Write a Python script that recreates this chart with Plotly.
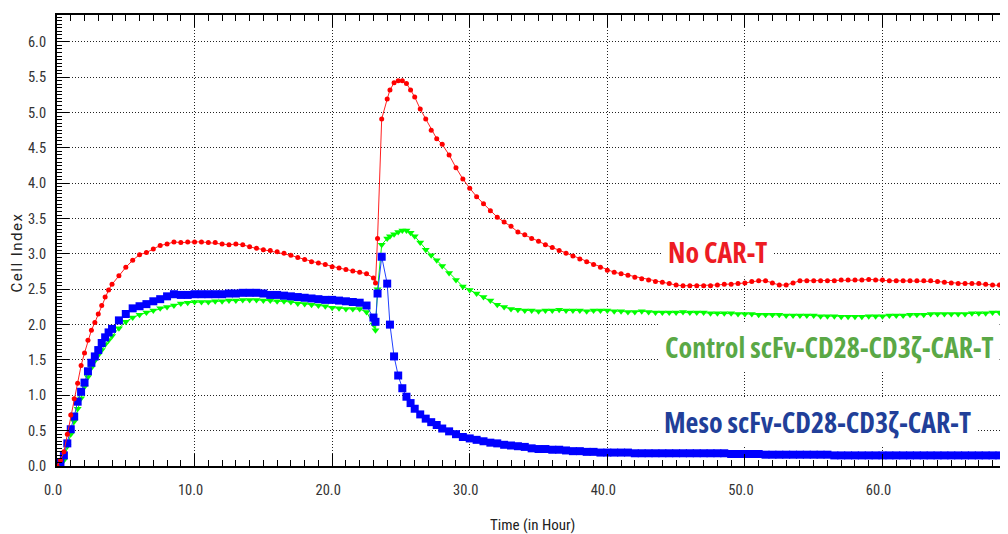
import plotly.graph_objects as go

hours = [0, 0.25, 0.5, 0.75, 1.0, 1.25, 1.5, 1.75, 2.0, 2.25, 2.5, 2.75, 3.0, 3.25, 3.5, 3.75,
         4.0, 4.5, 5.0, 5.5, 6.0, 6.5, 7.0, 7.5, 8.0, 8.5, 9.0, 9.5, 10.0, 10.5, 11.0, 11.5,
         12.0, 12.5, 13.0, 13.5, 14.0, 14.5, 15.0, 15.5, 16.0, 16.5, 17.0, 17.5, 18.0, 18.5,
         19.0, 19.5, 20.0, 20.5, 21.0, 21.5, 22.0, 22.5, 23.0, 23.15, 23.3, 23.6, 24.0, 24.2,
         24.5, 24.8, 25.1, 25.4, 25.7, 26.0, 26.4, 26.8, 27.2, 27.6, 28.0, 28.5, 29.0, 29.5,
         30.0, 30.5, 31.0, 31.5, 32.0, 32.5, 33.0, 33.5, 34.0, 34.5, 35.0, 35.5, 36.0, 36.5,
         37.0, 37.5, 38.0, 38.5, 39.0, 39.5, 40.0, 40.5, 41.0, 41.5, 42.0, 42.5, 43.0, 43.5,
         44.0, 44.5, 45.0, 45.5, 46.0, 46.5, 47.0, 47.5, 48.0, 48.5, 49.0, 49.5, 50.0, 50.5,
         51.0, 51.5, 52.0, 52.5, 53.0, 53.5, 54.0, 54.5, 55.0, 55.5, 56.0, 56.5, 57.0, 57.5,
         58.0, 58.5, 59.0, 59.5, 60.0, 60.5, 61.0, 61.5, 62.0, 62.5, 63.0, 63.5, 64.0, 64.5,
         65.0, 65.5, 66.0, 66.5, 67.0, 67.5, 68.0, 68.5, 69.0]

no_car_t = [0.0, 0.08, 0.2, 0.45, 0.72, 0.95, 1.17, 1.42, 1.6, 1.78, 1.92, 2.03, 2.15, 2.27, 2.39, 2.49,
            2.57, 2.69, 2.81, 2.91, 2.99, 3.02, 3.07, 3.12, 3.14, 3.17, 3.16, 3.17, 3.17, 3.17, 3.16, 3.16,
            3.14, 3.13, 3.14, 3.13, 3.10, 3.08, 3.06, 3.05, 3.03, 3.01, 2.98, 2.95, 2.92, 2.89,
            2.87, 2.85, 2.82, 2.80, 2.78, 2.76, 2.74, 2.72, 2.66, 2.59, 3.22, 4.91, 5.19, 5.32,
            5.42, 5.45, 5.45, 5.41, 5.32, 5.22, 5.05, 4.91, 4.75, 4.63, 4.55, 4.40, 4.22, 4.06,
            3.93, 3.81, 3.71, 3.61, 3.52, 3.45, 3.39, 3.31, 3.27, 3.22, 3.18, 3.13, 3.09, 3.05,
            3.01, 2.97, 2.93, 2.89, 2.85, 2.81, 2.77, 2.74, 2.72, 2.70, 2.67, 2.65, 2.63, 2.61,
            2.60, 2.58, 2.56, 2.55, 2.55, 2.55, 2.55, 2.55, 2.56, 2.57, 2.57, 2.58, 2.59, 2.61,
            2.62, 2.62, 2.59, 2.56, 2.56, 2.59, 2.62, 2.62, 2.62, 2.62, 2.62, 2.62, 2.63, 2.63,
            2.63, 2.63, 2.64, 2.63, 2.63, 2.62, 2.62, 2.62, 2.62, 2.62, 2.62, 2.62, 2.61, 2.60,
            2.59, 2.58, 2.58, 2.58, 2.58, 2.57, 2.56, 2.56, 2.55]

control_car_t = [0.0, 0.02, 0.08, 0.28, 0.45, 0.63, 0.81, 0.96, 1.12, 1.26, 1.39, 1.49, 1.57, 1.64, 1.72, 1.78,
                 1.84, 1.95, 2.04, 2.10, 2.14, 2.17, 2.20, 2.23, 2.25, 2.27, 2.30, 2.31, 2.32, 2.32, 2.32, 2.33,
                 2.33, 2.34, 2.34, 2.35, 2.35, 2.35, 2.34, 2.34, 2.33, 2.33, 2.32, 2.30, 2.29, 2.28,
                 2.27, 2.26, 2.24, 2.23, 2.22, 2.22, 2.22, 2.18, 2.00, 1.92, 2.50, 3.13, 3.22, 3.25,
                 3.28, 3.31, 3.33, 3.33, 3.30, 3.25, 3.16, 3.06, 2.98, 2.91, 2.83, 2.73, 2.63, 2.54,
                 2.49, 2.44, 2.39, 2.34, 2.28, 2.25, 2.22, 2.21, 2.20, 2.20, 2.19, 2.20, 2.20, 2.21,
                 2.20, 2.20, 2.20, 2.19, 2.20, 2.20, 2.20, 2.19, 2.19, 2.18, 2.18, 2.19, 2.18, 2.17,
                 2.17, 2.17, 2.17, 2.18, 2.17, 2.17, 2.17, 2.16, 2.16, 2.16, 2.16, 2.15, 2.15, 2.15,
                 2.14, 2.14, 2.14, 2.14, 2.13, 2.13, 2.13, 2.13, 2.13, 2.12, 2.12, 2.12, 2.11, 2.11,
                 2.11, 2.11, 2.12, 2.12, 2.12, 2.13, 2.13, 2.13, 2.14, 2.14, 2.14, 2.15, 2.15, 2.15,
                 2.15, 2.15, 2.15, 2.16, 2.16, 2.16, 2.17, 2.17, 2.18]

meso_car_t = [0.0, 0.05, 0.15, 0.32, 0.52, 0.70, 0.91, 1.05, 1.18, 1.34, 1.46, 1.55, 1.64, 1.74, 1.82, 1.89,
              1.94, 2.06, 2.15, 2.23, 2.26, 2.29, 2.33, 2.36, 2.40, 2.43, 2.42, 2.42, 2.43, 2.43, 2.43, 2.43,
              2.43, 2.44, 2.44, 2.45, 2.45, 2.45, 2.44, 2.42, 2.42, 2.41, 2.40, 2.39, 2.38, 2.37,
              2.36, 2.35, 2.35, 2.34, 2.33, 2.32, 2.31, 2.27, 2.10, 2.04, 2.44, 2.96, 2.58, 2.00,
              1.55, 1.28, 1.10, 0.98, 0.89, 0.81, 0.73, 0.67, 0.62, 0.58, 0.53, 0.49, 0.45, 0.41,
              0.39, 0.37, 0.35, 0.33, 0.32, 0.30, 0.29, 0.28, 0.27, 0.25, 0.24, 0.24, 0.23, 0.23,
              0.22, 0.21, 0.21, 0.20, 0.20, 0.19, 0.19, 0.19, 0.19, 0.19, 0.18, 0.18, 0.18, 0.18,
              0.18, 0.18, 0.18, 0.18, 0.18, 0.18, 0.18, 0.18, 0.18, 0.18, 0.17, 0.17, 0.17, 0.17,
              0.17, 0.16, 0.16, 0.16, 0.16, 0.16, 0.16, 0.16, 0.16, 0.16, 0.16, 0.15, 0.15, 0.15,
              0.15, 0.15, 0.15, 0.15, 0.15, 0.15, 0.15, 0.15, 0.15, 0.15, 0.15, 0.15, 0.15, 0.15,
              0.15, 0.15, 0.15, 0.15, 0.15, 0.15, 0.15, 0.15, 0.15]

labels = ["No CAR-T", "Control scFv-CD28-CD3ζ-CAR-T", "Meso scFv-CD28-CD3ζ-CAR-T"]
label_x = [43.95, 43.75, 43.7]
label_y = [3.03, 1.68, 0.62]

x_tick_vals = [0, 10, 20, 30, 40, 50, 60]
x_tick_text = ["0.0", "10.0", "20.0", "30.0", "40.0", "50.0", "60.0"]
y_tick_vals = [0, 0.5, 1.0, 1.5, 2.0, 2.5, 3.0, 3.5, 4.0, 4.5, 5.0, 5.5, 6.0]
y_tick_text = ["0.0", "0.5", "1.0", "1.5", "2.0", "2.5", "3.0", "3.5", "4.0", "4.5", "5.0", "5.5", "6.0"]
x_title = "Time (in Hour)"
y_title = "Cell Index"


def cond(s):
    return "<span style='font-stretch:condensed'>" + s + "</span>"


fig = go.Figure()
fig.add_trace(go.Scatter(x=hours, y=control_car_t, mode="lines+markers", name=labels[1],
                         line=dict(color="#00ff00", width=1),
                         marker=dict(symbol="triangle-down", size=7, color="#00ff00")))
fig.add_trace(go.Scatter(x=hours, y=meso_car_t, mode="lines+markers", name=labels[2],
                         line=dict(color="#2040ff", width=1),
                         marker=dict(symbol="square", size=8, color="#0000ff")))
fig.add_trace(go.Scatter(x=hours, y=no_car_t, mode="lines+markers", name=labels[0],
                         line=dict(color="#ff2020", width=1),
                         marker=dict(symbol="circle", size=5, color="#ff0000")))

ann_font = "Open Sans, sans-serif"
ann_colors = ["#ed1c24", "#5aa846", "#213f99"]
for i in range(3):
    fig.add_annotation(x=label_x[i], y=label_y[i], text=cond("<b>" + labels[i] + "</b>"),
                       xanchor="left", showarrow=False, bgcolor="white", borderpad=5,
                       font=dict(family=ann_font, size=28, color=ann_colors[i]))

fig.add_annotation(xref="paper", yref="paper", x=0.501, y=-0.131, text=cond(x_title),
                   showarrow=False, xanchor="center", yanchor="middle",
                   font=dict(family="Roboto, sans-serif", size=15, color="#222222"))
fig.add_annotation(xref="paper", yref="paper", x=-0.0416, y=0.4745,
                   text="<span style='letter-spacing:1.5px'>" + y_title + "</span>",
                   showarrow=False, textangle=-90, xanchor="center", yanchor="middle",
                   font=dict(family="Roboto, sans-serif", size=15, color="#222222"))

axis_font = dict(family="Roboto, sans-serif", size=14.5, color="#333333")
fig.update_layout(
    width=1000, height=526,
    margin=dict(l=49, r=1, t=7, b=68),
    plot_bgcolor="white", paper_bgcolor="white",
    showlegend=False,
    xaxis=dict(range=[0, 69.05], tickmode="array", tickvals=x_tick_vals,
               ticktext=[cond(t) for t in x_tick_text], automargin=False,
               showgrid=True, gridcolor="#222222", griddash="1px,2px", gridwidth=1,
               zeroline=False, showline=True, linecolor="#000000", linewidth=2,
               ticks="inside", ticklen=12, tickcolor="#000000", tickwidth=1,
               mirror="ticks", ticklabelstandoff=10, ticklabelshift=-4,
               minor=dict(dtick=1, ticks="inside", ticklen=6, tickcolor="#000000", showgrid=False),
               tickfont=axis_font),
    yaxis=dict(range=[0, 6.38], tickmode="array", tickvals=y_tick_vals,
               ticktext=[cond(t) for t in y_tick_text], automargin=False,
               showgrid=True, gridcolor="#222222", griddash="1px,2px", gridwidth=1,
               zeroline=False, showline=True, linecolor="#000000", linewidth=2,
               ticks="inside", ticklen=12, tickcolor="#000000", tickwidth=1,
               ticklabelstandoff=6,
               minor=dict(dtick=0.05, ticks="inside", ticklen=5, tickcolor="#000000", showgrid=False),
               tickfont=axis_font),
)

fig.write_html("out.html")
